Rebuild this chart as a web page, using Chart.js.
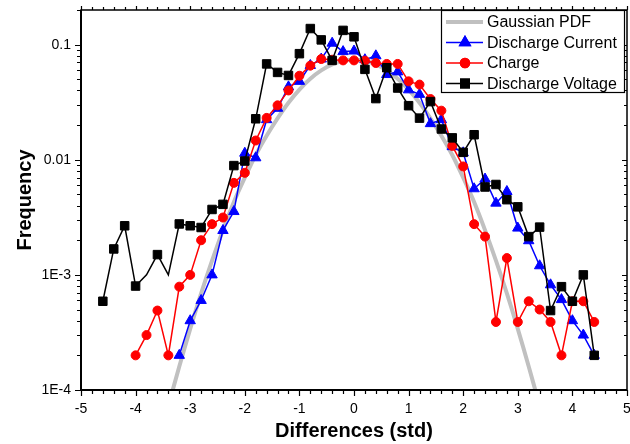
<!DOCTYPE html>
<html>
<head>
<meta charset="utf-8">
<script src="https://cdn.jsdelivr.net/npm/chart.js@4.4.0/dist/chart.umd.min.js"></script>
<style>
  html, body { margin: 0; padding: 0; background: #fff; }
  #wrap { width: 630px; height: 444px; }
</style>
</head>
<body>
<div id="wrap"><canvas id="chartDist" width="630" height="444"></canvas></div>
<script>
// values (bin centres in std units, frequency)
const gaussX = [-3.4,-3.2,-3.0,-2.8,-2.6,-2.4,-2.2,-2.0,-1.8,-1.6,-1.4,-1.2,-1.0,-0.8,-0.6,-0.4,-0.2,0,
  0.2,0.4,0.6,0.8,1.0,1.2,1.4,1.6,1.8,2.0,2.2,2.4,2.6,2.8,3.0,3.2,3.4];
const gaussY = [7.3e-5,1.6e-4,3.4e-4,6.9e-4,1.33e-3,2.45e-3,4.3e-3,7.0e-3,0.011,0.0162,0.0229,0.0313,0.0407,0.0506,0.0597,0.0673,0.0724,0.074,
  0.0724,0.0673,0.0597,0.0506,0.0407,0.0313,0.0229,0.0162,0.011,7.0e-3,4.3e-3,2.45e-3,1.33e-3,6.9e-4,3.4e-4,1.6e-4,7.3e-5];

const currentX = [-3.2,-3.0,-2.8,-2.6,-2.4,-2.2,-2.0,-1.8,-1.6,-1.4,-1.2,-1.0,-0.8,-0.6,-0.4,-0.2,
  0,0.2,0.4,0.6,0.8,1.0,1.2,1.4,1.6,1.8,2.0,2.2,2.4,2.6,2.8,3.0,3.2,3.4,3.6,3.8,4.0,4.2,4.4];
const currentY = [2.0e-4,4.0e-4,6.0e-4,1.0e-3,2.43e-3,3.55e-3,0.0114,0.0104,0.0223,0.028,0.043,0.048,0.066,0.075,0.103,0.087,
  0.088,0.074,0.080,0.055,0.058,0.0405,0.037,0.0206,0.0223,0.013,0.0115,5.6e-3,6.8e-3,4.2e-3,5.3e-3,2.55e-3,1.98e-3,1.2e-3,8.2e-4,6.1e-4,4.0e-4,3.0e-4,2.0e-4];

const chargeX = [-4.0,-3.8,-3.6,-3.4,-3.2,-3.0,-2.8,-2.6,-2.4,-2.2,-2.0,-1.8,-1.6,-1.4,-1.2,-1.0,-0.8,-0.6,-0.4,-0.2,
  0,0.2,0.4,0.6,0.8,1.0,1.2,1.4,1.6,1.8,2.0,2.2,2.4,2.6,2.8,3.0,3.2,3.4,3.6,3.8,4.0,4.2,4.4];
const chargeY = [2.0e-4,3.0e-4,4.9e-4,2.0e-4,7.9e-4,1.0e-3,2.0e-3,2.76e-3,3.15e-3,6.3e-3,7.7e-3,0.0147,0.0231,0.0297,0.040,0.0537,0.0657,0.075,0.074,0.073,
  0.073,0.0726,0.0693,0.068,0.068,0.048,0.045,0.0337,0.0267,0.0132,8.75e-3,2.76e-3,2.15e-3,3.9e-4,1.4e-3,3.9e-4,5.9e-4,5.0e-4,3.9e-4,2.0e-4,5.9e-4,5.9e-4,3.9e-4];

const voltageX = [-4.6,-4.4,-4.2,-4.0,-3.8,-3.6,-3.4,-3.2,-3.0,-2.8,-2.6,-2.4,-2.2,-2.0,-1.8,-1.6,-1.4,-1.2,-1.0,-0.8,-0.6,-0.4,-0.2,
  0,0.2,0.4,0.6,0.8,1.0,1.2,1.4,1.6,1.8,2.0,2.2,2.4,2.6,2.8,3.0,3.2,3.4,3.6,3.8,4.0,4.2,4.4];
const voltageY = [5.9e-4,1.68e-3,2.67e-3,8.0e-4,1.0e-3,1.5e-3,1.0e-3,2.77e-3,2.67e-3,2.58e-3,3.7e-3,4.1e-3,8.9e-3,9.75e-3,0.0227,0.068,0.0574,0.054,0.0835,0.138,0.11,0.073,0.133,
  0.117,0.061,0.034,0.063,0.042,0.0295,0.023,0.032,0.0185,0.0155,0.0116,0.0165,5.8e-3,6.1e-3,4.5e-3,3.9e-3,2.15e-3,2.6e-3,4.9e-4,7.9e-4,5.9e-4,1.0e-3,2.0e-4];
// points of the voltage curve drawn without a symbol in the original
const voltageBareX = [-3.8, -3.4];

const xTicks = [-5,-4,-3,-2,-1,0,1,2,3,4,5];
const yTickLabels = { '0.1': '0.1', '0.01': '0.01', '0.001': '1E-3', '0.0001': '1E-4' };

const FONT = 'Liberation Sans, Arial, sans-serif';

function pts(xs, ys) {
  return xs.map((x, i) => ({ x: x, y: ys[i] }));
}

// box frame, tick marks (major + minor) and the boxed legend
const framePlugin = {
  id: 'frame',
  afterDraw(chart) {
    const ctx = chart.ctx;
    const a = chart.chartArea;
    const xs = chart.scales.x, ys = chart.scales.y;
    ctx.save();
    ctx.strokeStyle = '#000';

    // ticks
    ctx.lineWidth = 1.2;
    ctx.beginPath();
    for (let i = -50; i <= 50; i += 2) {
      const v = i / 10;
      const px = Math.round(xs.getPixelForValue(v)) + 0.5;
      const major = i % 10 === 0;
      const len = major ? 6 : 4;
      ctx.moveTo(px, a.bottom); ctx.lineTo(px, a.bottom + len);
      ctx.moveTo(px, a.top); ctx.lineTo(px, a.top - (major ? 4 : 3));
    }
    for (let e = -4; e <= -1; e++) {
      for (let k = 1; k <= 9; k++) {
        const v = k * Math.pow(10, e);
        if (v > 0.2 + 1e-9) break;
        const py = Math.round(ys.getPixelForValue(v)) + 0.5;
        const len = k === 1 ? 6 : 4;
        ctx.moveTo(a.left, py); ctx.lineTo(a.left - len, py);
        ctx.moveTo(a.right, py); ctx.lineTo(a.right - (k === 1 ? 5 : 3), py);
      }
    }
    ctx.stroke();

    // frame
    ctx.lineWidth = 1.5;
    ctx.strokeRect(a.left, a.top, a.right - a.left, a.bottom - a.top);
    ctx.lineWidth = 2;
    ctx.beginPath();
    ctx.moveTo(a.left, a.top); ctx.lineTo(a.left, a.bottom); ctx.lineTo(a.right, a.bottom);
    ctx.stroke();

    // legend
    const bx = a.right - 186, by = a.top, bw = 183, bh = 82;
    ctx.fillStyle = '#fff';
    ctx.fillRect(bx, by, bw, bh);
    ctx.lineWidth = 1.2;
    ctx.strokeRect(bx + 0.5, by + 0.5, bw, bh);
    ctx.font = '16px ' + FONT;
    ctx.textBaseline = 'middle';
    ctx.textAlign = 'left';
    chart.data.datasets.forEach((ds, i) => {
      const y = by + 12 + i * 20.5;
      ctx.strokeStyle = ds.borderColor;
      ctx.lineWidth = ds.borderWidth;
      ctx.beginPath();
      ctx.moveTo(bx + 5, y); ctx.lineTo(bx + 42, y);
      ctx.stroke();
      if (ds.legendStyle) {
        Chart.helpers.drawPoint(ctx, {
          pointStyle: ds.legendStyle, radius: ds.legendRadius, rotation: 0, borderWidth: 1
        }, bx + 24, y);
        ctx.fillStyle = ds.borderColor;
        ctx.fill();
        ctx.stroke();
      }
      ctx.fillStyle = '#000';
      ctx.fillText(ds.label, bx + 46, y + 1);
    });
    ctx.restore();
  }
};

const ctxDist = document.getElementById('chartDist').getContext('2d');
new Chart(ctxDist, {
  type: 'line',
  data: {
    datasets: [{
      label: 'Gaussian PDF',
      data: pts(gaussX, gaussY),
      borderColor: '#c0c0c0',
      borderWidth: 4,
      pointRadius: 0,
      tension: 0.3,
      order: 4
    }, {
      label: 'Discharge Current',
      data: pts(currentX, currentY),
      borderColor: '#0000ff',
      backgroundColor: '#0000ff',
      borderWidth: 1.5,
      pointStyle: 'triangle',
      pointRadius: 6,
      pointBorderWidth: 1,
      legendStyle: 'triangle',
      legendRadius: 6,
      order: 3
    }, {
      label: 'Charge',
      data: pts(chargeX, chargeY),
      borderColor: '#ff0000',
      backgroundColor: '#ff0000',
      borderWidth: 1.5,
      pointStyle: 'circle',
      pointRadius: 4.5,
      pointBorderWidth: 1,
      legendStyle: 'circle',
      legendRadius: 4.5,
      order: 2
    }, {
      label: 'Discharge Voltage',
      data: pts(voltageX, voltageY),
      borderColor: '#000000',
      backgroundColor: '#000000',
      borderWidth: 1.5,
      pointStyle: 'rect',
      pointRadius: (c) => (c.raw && voltageBareX.includes(c.raw.x)) ? 0 : 6,
      pointBorderWidth: 1,
      legendStyle: 'rect',
      legendRadius: 6,
      order: 1
    }]
  },
  options: {
    responsive: false,
    animation: false,
    layout: { autoPadding: false, padding: { left: 0, right: 3, top: 10, bottom: 0 } },
    plugins: {
      legend: { display: false },
      tooltip: { enabled: false }
    },
    scales: {
      x: {
        type: 'linear',
        min: -5,
        max: 5,
        afterBuildTicks: (s) => { s.ticks = xTicks.map(v => ({ value: v })); },
        afterFit: (s) => { s.height = 54; s.paddingLeft = 0; s.paddingRight = 0; },
        grid: { display: false, drawTicks: false },
        border: { display: false },
        ticks: {
          color: '#000',
          padding: 11,
          maxRotation: 0,
          font: { family: FONT, size: 14 }
        },
        title: {
          display: true,
          text: 'Differences (std)',
          color: '#000',
          padding: { top: 0, bottom: 1 },
          font: { family: FONT, size: 20, weight: 'bold' }
        }
      },
      y: {
        type: 'logarithmic',
        min: 1e-4,
        max: 0.2,
        afterFit: (s) => { s.width = 81; s.paddingTop = 0; s.paddingBottom = 0; },
        grid: { display: false, drawTicks: false },
        border: { display: false },
        ticks: {
          color: '#000',
          padding: 10,
          autoSkip: false,
          font: { family: FONT, size: 14 },
          callback: (v) => yTickLabels[String(Number(v.toPrecision(6)))] || ''
        },
        title: {
          display: true,
          text: 'Frequency',
          color: '#000',
          padding: { top: 13, bottom: 0 },
          font: { family: FONT, size: 20, weight: 'bold' }
        }
      }
    }
  },
  plugins: [framePlugin]
});
</script>
</body>
</html>
